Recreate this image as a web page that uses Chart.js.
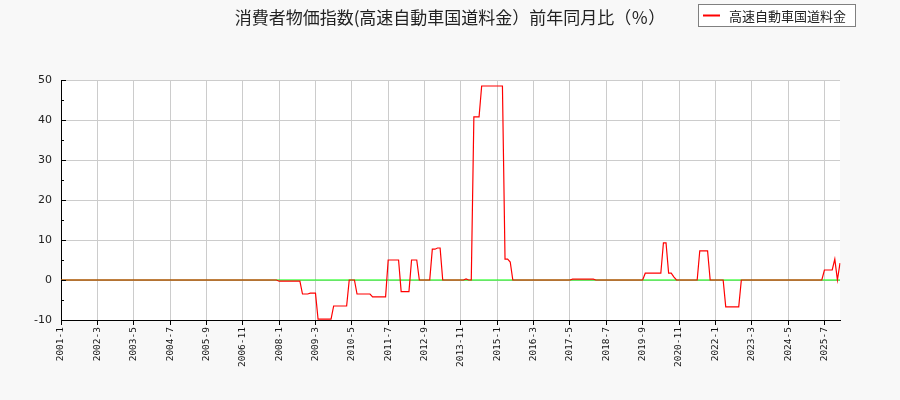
<!DOCTYPE html>
<html>
<head>
<meta charset="utf-8">
<script src="https://cdn.jsdelivr.net/npm/chart.js@4.4.0/dist/chart.umd.min.js"></script>
<style>
  body { margin: 0; background: #f8f8f8; }
  canvas { display: block; }
</style>
</head>
<body>
<canvas id="chart" width="900" height="400"></canvas>
<script>
const chartTitle = "消費者物価指数(高速自動車国道料金）前年同月比（％）";
const seriesName = "高速自動車国道料金";

// monthly categories 2001-1 .. 2026-1
const months = [];
for (let i = 0; i < 301; i++) {
  months.push((2001 + Math.floor(i / 12)) + "-" + (i % 12 + 1));
}

// year-on-year change (%), one row per year
const tollYoY = [
  0, 0, 0, 0, 0, 0, 0, 0, 0, 0, 0, 0,                                  // 2001
  0, 0, 0, 0, 0, 0, 0, 0, 0, 0, 0, 0,                                  // 2002
  0, 0, 0, 0, 0, 0, 0, 0, 0, 0, 0, 0,                                  // 2003
  0, 0, 0, 0, 0, 0, 0, 0, 0, 0, 0, 0,                                  // 2004
  0, 0, 0, 0, 0, 0, 0, 0, 0, 0, 0, 0,                                  // 2005
  0, 0, 0, 0, 0, 0, 0, 0, 0, 0, 0, 0,                                  // 2006
  0, 0, 0, 0, 0, 0, 0, 0, 0, 0, 0, 0,                                  // 2007
  -0.3, -0.3, -0.3, -0.3, -0.3, -0.3, -0.3, -0.3, -0.3, -3.5, -3.5, -3.5, // 2008
  -3.3, -3.3, -3.3, -9.8, -9.8, -9.8, -9.8, -9.8, -9.8, -6.5, -6.5, -6.5, // 2009
  -6.5, -6.5, -6.5, 0, 0, 0, -3.5, -3.5, -3.5, -3.5, -3.5, -3.5,          // 2010
  -4.2, -4.2, -4.2, -4.2, -4.2, -4.2, 5, 5, 5, 5, 5, -2.9,                // 2011
  -2.9, -2.9, -2.9, 5, 5, 5, 0, 0, 0, 0, 0, 7.7,                          // 2012
  7.7, 8, 8, 0, 0, 0, 0, 0, 0, 0, 0, 0,                                  // 2013
  0.25, 0, 0, 40.8, 40.8, 40.8, 48.5, 48.5, 48.5, 48.5, 48.5, 48.5,      // 2014
  48.5, 48.5, 48.5, 5.2, 5.2, 4.5, 0, 0, 0, 0, 0, 0,                      // 2015
  0, 0, 0, 0, 0, 0, 0, 0, 0, 0, 0, 0,                                  // 2016
  0, 0, 0, 0, 0, 0.2, 0.2, 0.2, 0.2, 0.2, 0.2, 0.2,                      // 2017
  0.2, 0.2, 0, 0, 0, 0, 0, 0, 0, 0, 0, 0,                                // 2018
  0, 0, 0, 0, 0, 0, 0, 0, 0, 1.7, 1.7, 1.7,                              // 2019
  1.7, 1.7, 1.7, 1.7, 9.3, 9.3, 1.7, 1.7, 0.8, 0, 0, 0,                  // 2020
  0, 0, 0, 0, 0, 0, 7.3, 7.3, 7.3, 7.3, 0, 0,                            // 2021
  0, 0, 0, 0, -6.7, -6.7, -6.7, -6.7, -6.7, -6.7, 0, 0,                  // 2022
  0, 0, 0, 0, 0, 0, 0, 0, 0, 0, 0, 0,                                  // 2023
  0, 0, 0, 0, 0, 0, 0, 0, 0, 0, 0, 0,                                  // 2024
  0, 0, 0, 0, 0, 0, 2.5, 2.5, 2.5, 2.5, 5.2, 0,                          // 2025
  4.2                                                                  // 2026
];

const zeroLine = months.map(() => 0);
const labelEvery = 14;
const yMin = -10, yMax = 50, yStep = 10, yMinorStep = 5;

const plotBg = {
  id: "plotBg",
  beforeDraw(chart) {
    const a = chart.chartArea, ctx = chart.ctx;
    ctx.save();
    ctx.fillStyle = "#ffffff";
    ctx.fillRect(a.left, a.top, a.right - a.left, a.bottom - a.top);
    ctx.restore();
  }
};

// y ticks point into the plot, with minor ticks in between
const innerTicks = {
  id: "innerTicks",
  afterDraw(chart) {
    const y = chart.scales.y, ctx = chart.ctx, left = chart.chartArea.left;
    ctx.save();
    ctx.strokeStyle = "#000";
    ctx.lineWidth = 1;
    for (let v = yMin; v <= yMax; v += yMinorStep) {
      const py = Math.round(y.getPixelForValue(v)) + 0.5;
      const len = v % yStep === 0 ? 5 : 3;
      ctx.beginPath();
      ctx.moveTo(left, py);
      ctx.lineTo(left + len, py);
      ctx.stroke();
    }
    ctx.restore();
  }
};

const boxLegend = {
  id: "boxLegend",
  afterDraw(chart) {
    const ctx = chart.ctx, ds = chart.data.datasets[0];
    ctx.save();
    ctx.fillStyle = "#ffffff";
    ctx.strokeStyle = "#808080";
    ctx.lineWidth = 1;
    ctx.fillRect(698.5, 4.5, 157, 22);
    ctx.strokeRect(698.5, 4.5, 157, 22);
    ctx.strokeStyle = ds.borderColor;
    ctx.lineWidth = 2;
    ctx.beginPath();
    ctx.moveTo(703, 15.5);
    ctx.lineTo(720, 15.5);
    ctx.stroke();
    ctx.fillStyle = "#222";
    ctx.font = "13px 'Noto Sans CJK JP'";
    ctx.textBaseline = "middle";
    ctx.fillText(ds.label, 729, 16);
    ctx.restore();
  }
};

new Chart(document.querySelector("#chart"), {
  type: "line",
  data: {
    labels: months,
    datasets: [
      {
        label: seriesName,
        data: tollYoY,
        borderColor: "#ff0000",
        borderWidth: 1.2,
        pointRadius: 0,
        tension: 0,
      },
      {
        label: "zero",
        data: zeroLine,
        borderColor: "#00ff00",
        borderWidth: 1.2,
        pointRadius: 0,
      },
    ],
  },
  options: {
    responsive: false,
    animation: false,
    layout: { padding: 0 },
    plugins: {
      legend: { display: false },
      tooltip: { enabled: false },
      title: {
        display: true,
        text: chartTitle,
        color: "#222",
        font: { family: "'Noto Sans CJK JP'", size: 17, weight: "normal", lineHeight: 1.25 },
        padding: { top: 7, bottom: 51.75 },
      },
    },
    scales: {
      x: {
        grid: {
          // unlabelled ticks are dropped, so c.index counts labelled ticks only
          color: (c) => (c.index > 0 ? "#cccccc" : "rgba(0,0,0,0)"),
          tickColor: "#000",
          tickLength: 5,
        },
        border: { color: "#000" },
        ticks: {
          autoSkip: false,
          minRotation: 90,
          maxRotation: 90,
          padding: 2,
          color: "#111",
          font: { family: "'DejaVu Sans Mono'", size: 9.5 },
          callback: (v, i) => (i % labelEvery === 0 ? months[i] : null),
        },
        afterFit: (s) => { s.height = 80; },
      },
      y: {
        min: yMin,
        max: yMax,
        grid: {
          color: (c) => (c.tick && c.tick.value === yMin ? "rgba(0,0,0,0)" : "#cccccc"),
          drawTicks: false,
        },
        border: { color: "#000" },
        ticks: {
          stepSize: yStep,
          padding: 9,
          color: "#222",
          font: { family: "'DejaVu Sans'", size: 11 },
        },
        afterFit: (s) => { s.width = 61; },
      },
      // empty right-hand margin so the title stays centred on the page
      yRight: {
        position: "right",
        min: yMin,
        max: yMax,
        grid: { drawOnChartArea: false, drawTicks: false },
        border: { display: false },
        ticks: { display: false },
        afterFit: (s) => { s.width = 60; },
      },
    },
  },
  plugins: [plotBg, innerTicks, boxLegend],
});
</script>
</body>
</html>
